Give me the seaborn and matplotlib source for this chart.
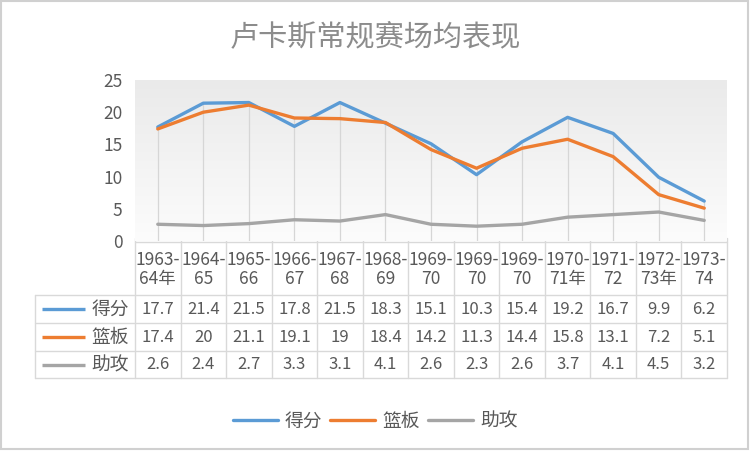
import numpy as np
import pandas as pd
import matplotlib
matplotlib.use("Agg")
import matplotlib.pyplot as plt
import seaborn as sns
from matplotlib.lines import Line2D
from matplotlib.patches import Rectangle
from matplotlib.colors import LinearSegmentedColormap

# ---------------- data ----------------
title = "卢卡斯常规赛场均表现"
seasons = ["1963-\n64年", "1964-\n65", "1965-\n66", "1966-\n67", "1967-\n68",
           "1968-\n69", "1969-\n70", "1969-\n70", "1969-\n70", "1970-\n71年",
           "1971-\n72", "1972-\n73年", "1973-\n74"]
points = [17.7, 21.4, 21.5, 17.8, 21.5, 18.3, 15.1, 10.3, 15.4, 19.2, 16.7, 9.9, 6.2]
rebounds = [17.4, 20, 21.1, 19.1, 19, 18.4, 14.2, 11.3, 14.4, 15.8, 13.1, 7.2, 5.1]
assists = [2.6, 2.4, 2.7, 3.3, 3.1, 4.1, 2.6, 2.3, 2.6, 3.7, 4.1, 4.5, 3.2]
series_names = ["得分", "篮板", "助攻"]
series_colors = ["#5B9BD5", "#ED7D31", "#A5A5A5"]
yticks = [0, 5, 10, 15, 20, 25]

series_values = [points, rebounds, assists]
n = len(seasons)
df = pd.DataFrame({
    "pos": np.tile(np.arange(n), 3),
    "value": points + rebounds + assists,
    "series": np.repeat(series_names, n),
})

# ---------------- style ----------------
sns.set_style("white")
plt.rcParams["font.family"] = ["Noto Sans CJK SC", "DejaVu Sans"]
text_color = "#595959"
grid_color = "#D9D9D9"

W, H = 750, 451
fig = plt.figure(figsize=(W / 100, H / 100), dpi=100)
fig.patch.set_facecolor("white")

# plot area (pixel geometry)
x0, x1 = 135, 727
y_top, y_bot = 80, 241
ax = fig.add_axes([x0 / W, 1 - y_bot / H, (x1 - x0) / W, (y_bot - y_top) / H])

# gradient background
cmap = LinearSegmentedColormap.from_list("bg", ["#FCFCFC", "#EAEAEA"])
grad = np.linspace(0, 1, 256).reshape(-1, 1)
ax.imshow(grad, extent=[-0.5, n - 0.5, 25, 0], aspect="auto", cmap=cmap, zorder=0,
          origin="upper")

# drop lines
tops = [max(v) for v in zip(*series_values)]
ax.vlines(np.arange(n), 0, tops, color="#D6D6D6", lw=0.9, zorder=1)

sns.lineplot(data=df, x="pos", y="value", hue="series", hue_order=series_names,
             palette=dict(zip(series_names, series_colors)), linewidth=2.4,
             legend=False, sort=False, ax=ax, zorder=3)

ax.set_xlim(-0.5, n - 0.5)
ax.set_ylim(0, 25)
ax.set_yticks(yticks)
ax.set_yticklabels([str(t) for t in yticks])
ax.set_xticks([])
ax.set_xlabel("")
ax.set_ylabel("")
ax.tick_params(axis="y", length=0, pad=9, labelsize=12.5, labelcolor=text_color)
for s in ax.spines.values():
    s.set_visible(False)

# ---------------- data table (overlay in pixel coords) ----------------
ov = fig.add_axes([0, 0, 1, 1], zorder=-1)
ov.set_xlim(0, W)
ov.set_ylim(H, 0)
ov.axis("off")

def px(i):
    return ax.transData.transform((i, 0))[0]

col_w = px(1) - px(0)
bounds = [px(i) - col_w / 2 for i in range(n)] + [px(n - 1) + col_w / 2]
lab_x0 = 35
hdr_top, hdr_bot = 242, 295
row_lines = [295, 323, 351, 378]

ov.plot([bounds[0], bounds[-1]], [hdr_top, hdr_top], color=grid_color, lw=1)
for yl in row_lines:
    ov.plot([lab_x0, bounds[-1]], [yl, yl], color=grid_color, lw=1)
for b in bounds:
    ov.plot([b, b], [238, row_lines[-1]], color=grid_color, lw=1)
ov.plot([lab_x0, lab_x0], [row_lines[0], row_lines[-1]], color=grid_color, lw=1)

for i, lab in enumerate(seasons):
    ov.text(px(i), (hdr_top + hdr_bot) / 2 + 1, lab, ha="center", va="center",
            fontsize=12.5, color=text_color, linespacing=1.05)

for r, (name, col, vals) in enumerate(zip(series_names, series_colors, series_values)):
    yc = (row_lines[r] + row_lines[r + 1]) / 2
    ov.plot([42, 85], [yc, yc], color=col, lw=2.4, solid_capstyle="butt")
    ov.text(110, yc, name, ha="center", va="center", fontsize=13.5, color=text_color)
    for i, v in enumerate(vals):
        ov.text(px(i), yc, f"{v:g}", ha="center", va="center", fontsize=12,
                color=text_color)

# ---------------- title, legend, border ----------------
fig.text(0.5, 1 - 37 / H, title, ha="center", va="center", fontsize=21,
         color="#8C8C8C", fontweight="light")

handles = [Line2D([0], [0], color=c, lw=2.4) for c in series_colors]
fig.legend(handles, series_names, loc="center", bbox_to_anchor=(375 / W, 1 - 421 / H),
           ncol=3, frameon=False, fontsize=13.5, handlelength=2.4, handletextpad=0.4,
           columnspacing=0.4, labelcolor=text_color)

fig.add_artist(Rectangle((1 / W, 2 / H), 747 / W, 448 / H, transform=fig.transFigure,
                         fill=False, edgecolor="#D0D0D0", lw=1.5))

fig.savefig("out.png", dpi=100)
